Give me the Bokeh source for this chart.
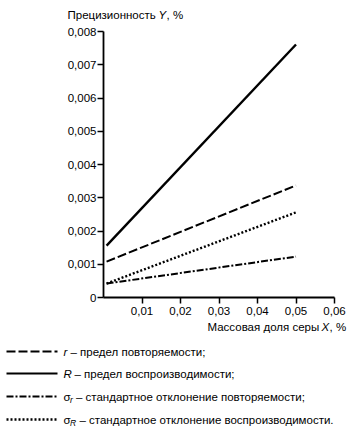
from bokeh.plotting import figure
from bokeh.layouts import column
from bokeh.models import FixedTicker, CustomJSTickFormatter, Range1d, ColumnDataSource
from bokeh.core.properties import value
from bokeh.embed import file_html
from bokeh.resources import INLINE

# ---- data ----
x_vals = [0.0008, 0.05]
r_vals = [0.00108, 0.00337]      # r – предел повторяемости
R_vals = [0.00156, 0.00761]      # R – предел воспроизводимости
sr_vals = [0.00042, 0.00123]     # sigma_r
sR_vals = [0.00042, 0.00256]     # sigma_R
x_ticks = [0.01, 0.02, 0.03, 0.04, 0.05, 0.06]
y_ticks = [0.0, 0.001, 0.002, 0.003, 0.004, 0.005, 0.006, 0.007, 0.008]
y_title = ["Прецизионность", "Y", ", %"]
x_title = ["Массовая доля серы", "X", ", %"]
legend_labels = ["– предел повторяемости;", "– предел воспроизводимости;",
                 "– стандартное отклонение повторяемости;",
                 "– стандартное отклонение воспроизводимости."]

FONT = "Liberation Sans"
FS = "11.5px"
W = 352


def blank(height):
    f = figure(width=W, height=height, x_range=Range1d(0, W), y_range=Range1d(height, 0),
               output_backend="svg", toolbar_location=None,
               x_axis_location=None, y_axis_location=None,
               min_border=0, min_border_left=0, min_border_right=0,
               min_border_top=0, min_border_bottom=0, frame_align=False)
    f.outline_line_color = None
    f.xgrid.visible = False
    f.ygrid.visible = False
    return f


def txt(f, x, y, s, style="normal", size=FS):
    f.text(x=[x], y=[y], text=[s], text_font=value(FONT), text_font_size=value(size),
           text_font_style=style, text_color="black", text_baseline="middle", text_align="left")


# ---- header with the y title ----
head = blank(22)
txt(head, 67, 14, y_title[0])
txt(head, 158, 14, y_title[1], "italic")
txt(head, 166, 14, y_title[2])

# ---- main chart ----
src = ColumnDataSource(dict(x=x_vals, r=r_vals, R=R_vals, sr=sr_vals, sR=sR_vals))
p = figure(width=W, height=296, x_range=Range1d(0, 0.06), y_range=Range1d(0, 0.008),
           output_backend="svg", toolbar_location=None, frame_align=False,
           min_border_left=103, min_border_right=18, min_border_top=9, min_border_bottom=21)
p.outline_line_color = None
p.xgrid.visible = False
p.ygrid.visible = False

for ax in (p.xaxis[0], p.yaxis[0]):
    ax.axis_line_width = 1.8
    ax.axis_line_color = "black"
    ax.major_tick_line_width = 1.5
    ax.major_tick_line_color = "black"
    ax.major_tick_in = 0
    ax.major_tick_out = 6
    ax.minor_tick_line_color = None
    ax.major_label_text_font = FONT
    ax.major_label_text_font_size = FS
    ax.major_label_text_color = "black"

p.xaxis.ticker = FixedTicker(ticks=x_ticks)
p.yaxis.ticker = FixedTicker(ticks=y_ticks)
p.xaxis.formatter = CustomJSTickFormatter(code="return tick.toFixed(2).replace('.', ',');")
p.yaxis.formatter = CustomJSTickFormatter(code="return tick == 0 ? '0' : tick.toFixed(3).replace('.', ',');")
p.xaxis.major_label_standoff = 3
p.yaxis.major_label_standoff = 1

p.line("x", "R", source=src, line_color="black", line_width=2.4)
p.line("x", "r", source=src, line_color="black", line_width=2, line_dash="9 3")
p.line("x", "sR", source=src, line_color="black", line_width=2.4, line_dash="2 2")
p.line("x", "sr", source=src, line_color="black", line_width=2, line_dash="7 2 2 2")

# ---- footer: x title and legend ----
foot = blank(112)
txt(foot, 207, 8, x_title[0])
txt(foot, 321, 8, x_title[1], "italic")
txt(foot, 329, 8, x_title[2])

rows = [33, 55, 78, 101]
dashes = ["9 3", "solid", "7 2 2 2", "2 2"]
widths = [2, 2, 2, 2.4]
for yy, d, w in zip(rows, dashes, widths):
    foot.line(x=[6, 57], y=[yy, yy], line_color="black", line_width=w, line_dash=d)

txt(foot, 63, rows[0], "r", "italic")
txt(foot, 70, rows[0], legend_labels[0])
txt(foot, 63, rows[1], "R", "italic")
txt(foot, 74, rows[1], legend_labels[1])
txt(foot, 63, rows[2], "σ")
txt(foot, 69.5, rows[2] + 3, "r", "italic", "8.5px")
txt(foot, 75.5, rows[2], legend_labels[2])
txt(foot, 63, rows[3], "σ")
txt(foot, 69.5, rows[3] + 3, "R", "italic", "8.5px")
txt(foot, 79, rows[3], legend_labels[3])

layout = column(head, p, foot, spacing=0)
open("out.html", "w").write(file_html(layout, INLINE))
